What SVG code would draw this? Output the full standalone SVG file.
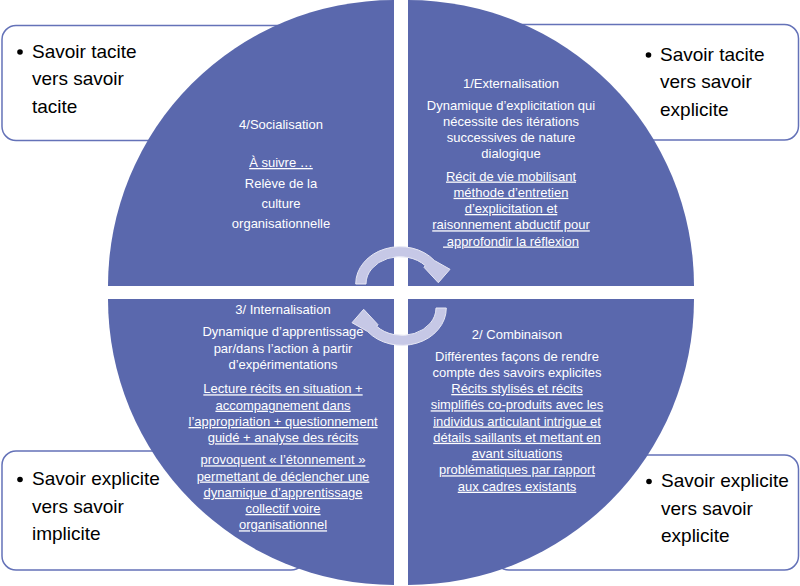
<svg xmlns="http://www.w3.org/2000/svg" width="800" height="586" viewBox="0 0 800 586">
<style>
.box{fill:#ffffff;stroke:#6472b8;stroke-width:1.5}
.quad{fill:#5a68ad}
.bt{font-family:"Liberation Sans",Arial,sans-serif;font-size:19px;fill:#000000}
.qt{font-family:"Liberation Sans",Arial,sans-serif;font-size:13px;fill:#ffffff;text-anchor:middle}
.u{text-decoration:underline}
.arrow{fill:#c6c8e6;stroke:#e6e7f4;stroke-width:1}
</style>
<rect width="800" height="586" fill="#ffffff"/>
<g id="box-tl">
<rect class="box" x="2" y="25.5" width="303" height="115" rx="14"/>
<circle cx="20" cy="52" r="2.8"/>
<text class="bt" x="32" y="57.5">Savoir tacite</text>
<text class="bt" x="32" y="85">vers savoir</text>
<text class="bt" x="32" y="112.5">tacite</text>
</g>
<g id="box-tr">
<rect class="box" x="495" y="24.5" width="303.5" height="115.5" rx="14"/>
<circle cx="648.5" cy="55" r="2.8"/>
<text class="bt" x="660" y="60.5">Savoir tacite</text>
<text class="bt" x="660" y="88">vers savoir</text>
<text class="bt" x="660" y="115.5">explicite</text>
</g>
<g id="box-bl">
<rect class="box" x="2" y="451" width="303" height="119" rx="14"/>
<circle cx="20" cy="479.5" r="2.8"/>
<text class="bt" x="32" y="485">Savoir explicite</text>
<text class="bt" x="32" y="512.5">vers savoir</text>
<text class="bt" x="32" y="540">implicite</text>
</g>
<g id="box-br">
<rect class="box" x="495" y="455" width="303.5" height="115" rx="14"/>
<circle cx="649" cy="481.5" r="2.8"/>
<text class="bt" x="661" y="487">Savoir explicite</text>
<text class="bt" x="661" y="514.5">vers savoir</text>
<text class="bt" x="661" y="542">explicite</text>
</g>
<g id="q-socialisation">
<path class="quad" d="M394,286 L108,286 A286,286 0 0 1 394,0 Z"/>
<text class="qt" x="281" y="129">4/Socialisation</text>
<text class="qt u" x="281" y="167">À suivre …</text>
<text class="qt" x="281" y="188">Relève de la</text>
<text class="qt" x="281" y="208">culture</text>
<text class="qt" x="281" y="228">organisationnelle</text>
</g>
<g id="q-externalisation">
<path class="quad" d="M408,286 L408,0 A286,286 0 0 1 694,286 Z"/>
<text class="qt" x="511" y="87.5">1/Externalisation</text>
<text class="qt" x="511" y="109.5">Dynamique d’explicitation qui</text>
<text class="qt" x="511" y="125.8">nécessite des itérations</text>
<text class="qt" x="511" y="142">successives de nature</text>
<text class="qt" x="511" y="158">dialogique</text>
<text class="qt u" x="511" y="180.5">Récit de vie mobilisant</text>
<text class="qt u" x="511" y="196.8">méthode d’entretien</text>
<text class="qt u" x="511" y="213">d’explicitation et</text>
<text class="qt u" x="511" y="229.3">raisonnement abductif pour</text>
<text class="qt u" x="511" y="245.5">&#160;approfondir la réflexion</text>
</g>
<g id="q-combinaison">
<path class="quad" d="M408,299 L694,299 A286,286 0 0 1 408,585 Z"/>
<text class="qt" x="517" y="338.5">2/ Combinaison</text>
<text class="qt" x="517" y="360.7">Différentes façons de rendre</text>
<text class="qt" x="517" y="376.8">compte des savoirs explicites</text>
<text class="qt u" x="517" y="393">Récits stylisés et récits</text>
<text class="qt u" x="517" y="409.3">simplifiés co-produits avec les</text>
<text class="qt u" x="517" y="425.5">individus articulant intrigue et</text>
<text class="qt u" x="517" y="441.8">détails saillants et mettant en</text>
<text class="qt u" x="517" y="458">avant situations</text>
<text class="qt u" x="517" y="474.3">problématiques par rapport</text>
<text class="qt u" x="517" y="490.7">aux cadres existants</text>
</g>
<g id="q-internalisation">
<path class="quad" d="M394,299 L394,585 A286,286 0 0 1 108,299 Z"/>
<text class="qt" x="283" y="313.5">3/ Internalisation</text>
<text class="qt" x="283" y="336">Dynamique d’apprentissage</text>
<text class="qt" x="283" y="352.5">par/dans l’action à partir</text>
<text class="qt" x="283" y="368.5">d’expérimentations</text>
<text class="qt u" x="283" y="393.3">Lecture récits en situation +</text>
<text class="qt u" x="283" y="409.7">accompagnement dans</text>
<text class="qt u" x="283" y="426">l’appropriation + questionnement</text>
<text class="qt u" x="283" y="442.3">guidé + analyse des récits</text>
<text class="qt u" x="283" y="464.3">provoquent « l’étonnement »</text>
<text class="qt u" x="283" y="480.5">permettant de déclencher une</text>
<text class="qt u" x="283" y="496.8">dynamique d’apprentissage</text>
<text class="qt u" x="283" y="513">collectif voire</text>
<text class="qt u" x="283" y="529.3">organisationnel</text>
</g>
<g id="connectors">
<path id="arrow-top" class="arrow" d="M355.7,284 A44.3,37.3 0 0 1 434.4,260.5 L450,269.3 L438.3,282.7 L424,267.3 L425.3,265.7 A34,27.3 0 0 0 366,284 Z"/>
<path id="arrow-bottom" class="arrow" transform="rotate(180 401 296)" d="M355.7,284 A44.3,37.3 0 0 1 434.4,260.5 L450,269.3 L438.3,282.7 L424,267.3 L425.3,265.7 A34,27.3 0 0 0 366,284 Z"/>
</g>
</svg>
